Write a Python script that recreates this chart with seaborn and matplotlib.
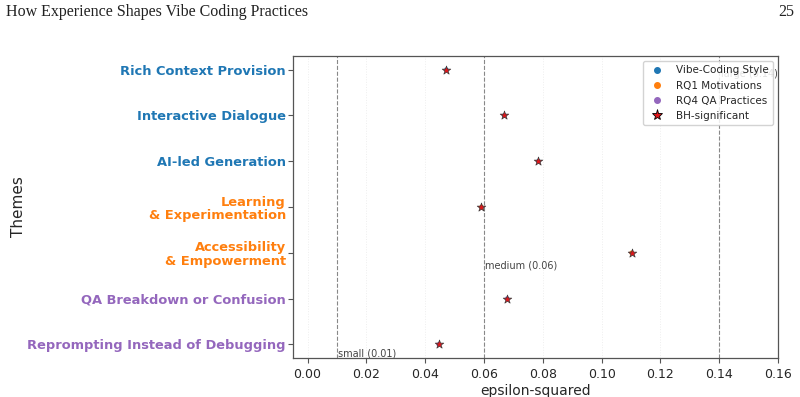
import matplotlib
matplotlib.use("Agg")
import matplotlib.pyplot as plt
import matplotlib.transforms as mtransforms
from matplotlib.lines import Line2D
import seaborn as sns
import pandas as pd

themes = ["Rich Context Provision", "Interactive Dialogue", "AI-led Generation",
          "Learning\n& Experimentation", "Accessibility\n& Empowerment",
          "QA Breakdown or Confusion", "Reprompting Instead of Debugging"]
groups = ["Vibe-Coding Style", "Vibe-Coding Style", "Vibe-Coding Style",
          "RQ1 Motivations", "RQ1 Motivations",
          "RQ4 QA Practices", "RQ4 QA Practices"]
eps2 = [0.0472, 0.0669, 0.0785, 0.0591, 0.1102, 0.0679, 0.0446]
significant = [True, True, True, True, True, True, True]
group_names = ["Vibe-Coding Style", "RQ1 Motivations", "RQ4 QA Practices"]
group_colors = ["#1f77b4", "#ff7f0e", "#9467bd"]
thresholds = [0.01, 0.06, 0.14]
threshold_labels = ["small (0.01)", "medium (0.06)", "large (0.14)"]
threshold_ypos = [0.0, 0.29, 0.925]

df = pd.DataFrame({"theme": themes, "group": groups, "eps2": eps2, "sig": significant})
palette = dict(zip(group_names, group_colors))

sns.set_style("white")
fig = plt.figure(figsize=(8, 3.97), dpi=100)
ax = fig.add_axes([0.366, 0.098, 0.6065, 0.761])

sns.scatterplot(data=df, x="eps2", y="theme", hue="group", palette=palette,
                s=12, ax=ax, legend=False, zorder=3)
sig = df[df["sig"]]
sns.scatterplot(data=sig, x="eps2", y="theme", marker="*", s=42, color="#e0161b",
                edgecolor="#3a3a3a", linewidth=0.5, ax=ax, legend=False, zorder=4)

trans = mtransforms.blended_transform_factory(ax.transData, ax.transAxes)
for t, lab, yp in zip(thresholds, threshold_labels, threshold_ypos):
    ax.axvline(t, color="#888888", linestyle="--", linewidth=0.8, zorder=1)
    ax.text(t + 0.0005, yp, lab, transform=trans, fontsize=7, color="#444444",
            va="bottom", ha="left", zorder=2)

ax.set_xlim(-0.005, 0.16)
ax.set_ylim(6.3, -0.3)
ax.set_xticks([0.0, 0.02, 0.04, 0.06, 0.08, 0.10, 0.12, 0.14, 0.16])
ax.set_xticklabels([f"{v:.2f}" for v in ax.get_xticks()], fontsize=9)
ax.grid(axis="x", color="#eeeeee", linestyle=":", linewidth=0.7)
ax.set_axisbelow(True)
for sp in ax.spines.values():
    sp.set_color("#555555")
    sp.set_linewidth(0.9)
ax.tick_params(axis="both", direction="out", length=3.5, width=0.8, color="#555555",
               left=True, bottom=True)
ax.tick_params(axis="y", pad=1.5)

ax.set_yticks(range(len(themes)))
ax.set_yticklabels(themes, fontsize=9.4, fontweight="bold", linespacing=1.05)
for lbl, g in zip(ax.get_yticklabels(), groups):
    lbl.set_color(palette[g])
ax.set_xlabel("epsilon-squared", fontsize=10, labelpad=2)
ax.set_ylabel("Themes", fontsize=11, labelpad=1)

handles = [Line2D([0], [0], marker="o", linestyle="", color=c, markersize=4) for c in group_colors]
handles.append(Line2D([0], [0], marker="*", linestyle="", markerfacecolor="#e0161b",
                      markeredgecolor="black", markeredgewidth=0.6, markersize=8))
ax.legend(handles, group_names + ["BH-significant"], loc="upper right", fontsize=7.5,
          frameon=True, framealpha=0.85, borderpad=0.4, handletextpad=0.8, labelspacing=0.5)

fig.text(0.007, 0.97, "How Experience Shapes Vibe Coding Practices", fontsize=11.5,
         family="Liberation Serif", va="center", ha="left", color="#222222")
fig.text(0.993, 0.97, "25", fontsize=11.5, family="Liberation Serif", va="center",
         ha="right", color="#222222")

fig.savefig("out.png", dpi=100)
